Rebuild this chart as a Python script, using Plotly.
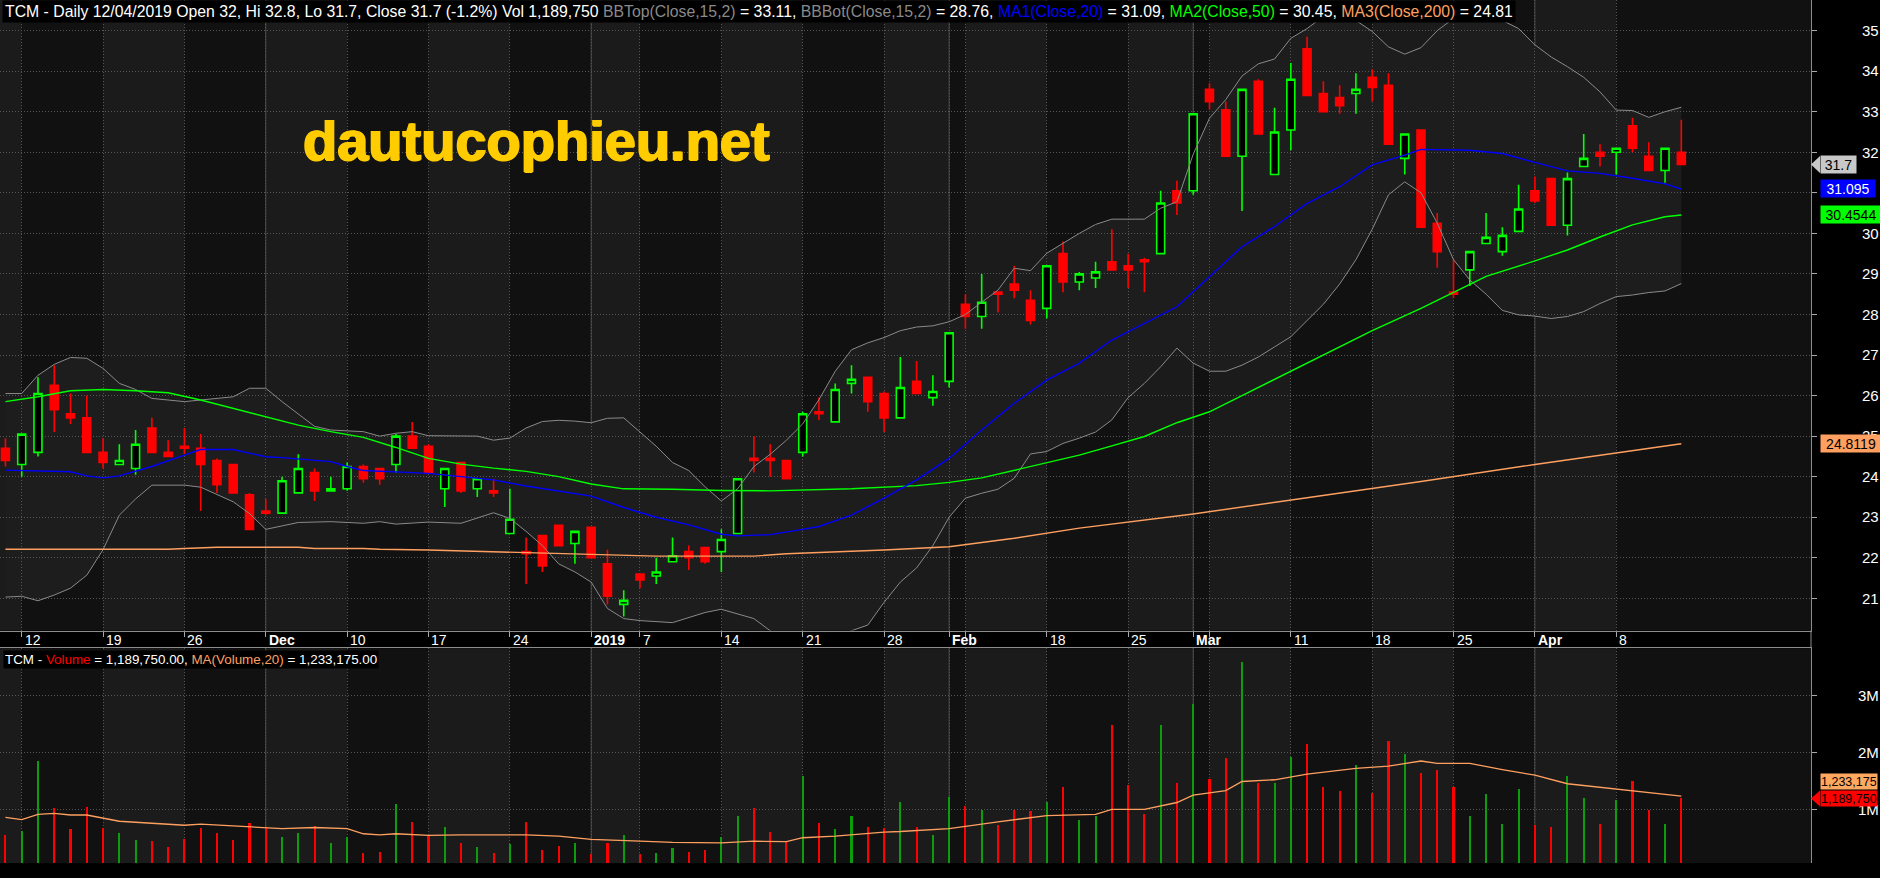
import plotly.graph_objects as go

W, H = 1880, 878

# ---------------- data ----------------
bar_index = list(range(104))

open_ = [24.70, 24.30, 24.60, 26.25, 25.55, 25.45, 24.60, 24.30, 24.20, 25.20,
         24.60, 24.75, 24.70, 24.40, 24.30, 23.55, 23.15, 23.10, 23.60, 24.10,
         23.65, 23.70, 24.25, 24.20, 24.30, 25.00, 24.75, 23.70, 24.35, 23.70,
         23.65, 22.60, 22.15, 22.55, 22.80, 22.35, 22.75, 21.85, 20.85, 21.60,
         21.55, 21.90, 22.15, 22.25, 22.15, 22.60, 24.45, 24.45, 24.40, 24.60,
         25.60, 25.35, 26.30, 26.45, 26.05, 25.45, 26.35, 25.95, 26.35, 28.25,
         27.95, 28.55, 28.75, 28.35, 28.15, 29.50, 28.80, 28.90, 29.30, 29.20,
         29.35, 29.50, 31.05, 31.05, 33.55, 33.05, 31.90, 33.75, 31.45, 32.55,
         34.55, 33.45, 33.35, 33.45, 33.85, 33.65, 31.85, 32.55, 30.25, 28.55,
         29.10, 29.75, 29.55, 30.05, 31.05, 31.35, 30.20, 31.65, 32.00, 32.00,
         32.65, 31.90, 31.55, 32.00]
high_ = [24.95, 25.05, 26.45, 26.75, 26.05, 26.00, 24.95, 24.80, 25.15, 25.45,
         24.90, 25.20, 25.05, 24.45, 24.30, 23.60, 23.45, 24.00, 24.55, 24.20,
         24.00, 24.35, 24.30, 24.20, 25.05, 25.35, 24.80, 24.20, 24.35, 23.95,
         23.95, 23.70, 22.50, 22.55, 22.80, 22.65, 22.75, 22.20, 21.20, 21.60,
         22.00, 22.50, 22.30, 22.25, 22.70, 23.95, 25.00, 24.80, 24.40, 25.60,
         25.95, 26.30, 26.75, 26.45, 26.10, 26.95, 26.85, 26.50, 27.55, 28.50,
         29.00, 28.55, 29.20, 28.60, 29.20, 29.80, 29.05, 29.30, 30.10, 29.50,
         29.40, 31.05, 31.30, 32.95, 33.70, 33.25, 33.55, 33.80, 33.10, 34.20,
         34.85, 33.75, 33.65, 33.95, 34.05, 33.95, 32.45, 32.55, 30.50, 29.35,
         29.55, 30.50, 30.15, 31.20, 31.40, 31.35, 31.50, 32.45, 32.20, 32.10,
         32.85, 32.25, 32.10, 32.80]
low_ = [24.25, 24.00, 24.50, 25.10, 25.30, 24.60, 24.20, 24.30, 24.05, 24.60,
        24.50, 24.55, 23.15, 23.60, 23.60, 22.70, 23.05, 23.10, 23.60, 23.40,
        23.65, 23.65, 23.85, 23.80, 24.10, 24.70, 24.10, 23.25, 23.60, 23.50,
        23.50, 22.60, 21.35, 21.65, 22.30, 21.85, 22.00, 20.85, 20.55, 21.25,
        21.35, 21.90, 21.70, 21.85, 21.65, 22.60, 24.10, 24.00, 23.95, 24.50,
        25.40, 25.35, 26.05, 25.60, 25.10, 25.45, 26.05, 25.75, 26.20, 27.65,
        27.65, 28.05, 28.40, 27.75, 27.90, 28.55, 28.60, 28.65, 29.10, 28.65,
        28.55, 29.50, 30.45, 30.95, 33.05, 31.90, 30.55, 32.45, 31.45, 32.05,
        33.40, 33.00, 32.95, 32.95, 33.25, 32.20, 31.45, 30.15, 29.15, 28.40,
        28.70, 29.75, 29.45, 30.05, 30.75, 30.20, 29.95, 31.65, 31.65, 31.45,
        32.00, 31.55, 31.25, 31.70]
close_ = [24.40, 25.05, 26.05, 25.65, 25.45, 24.60, 24.35, 24.40, 24.80, 24.60,
          24.50, 24.70, 24.30, 23.80, 23.60, 22.70, 23.10, 23.90, 24.20, 23.65,
          23.70, 24.25, 23.95, 23.95, 25.00, 24.70, 24.10, 24.20, 23.65, 23.95,
          23.60, 22.95, 22.10, 21.80, 22.30, 22.65, 22.00, 21.05, 20.95, 21.45,
          21.65, 22.05, 22.00, 21.90, 22.45, 23.95, 24.40, 24.40, 23.95, 25.55,
          25.55, 26.15, 26.40, 25.85, 25.45, 26.20, 26.05, 26.10, 27.55, 27.95,
          28.30, 28.50, 28.60, 27.85, 29.20, 28.80, 29.00, 29.05, 29.10, 29.10,
          29.30, 30.75, 30.75, 32.95, 33.25, 31.90, 33.55, 32.45, 32.50, 33.80,
          33.40, 33.00, 33.15, 33.55, 33.60, 32.20, 32.45, 30.15, 29.55, 28.50,
          29.55, 29.90, 29.95, 30.60, 30.80, 30.20, 31.35, 31.85, 31.90, 32.10,
          32.10, 31.55, 32.10, 31.70]
volume = [550000, 620000, 1850000, 1020000, 650000, 1040000, 670000, 570000, 460000, 440000,
          340000, 480000, 670000, 580000, 460000, 760000, 690000, 510000, 580000, 710000,
          410000, 500000, 230000, 250000, 1090000, 780000, 550000, 690000, 410000, 340000,
          230000, 390000, 780000, 280000, 350000, 410000, 200000, 410000, 550000, 200000,
          230000, 320000, 250000, 280000, 510000, 870000, 1010000, 600000, 440000, 1590000,
          760000, 650000, 880000, 690000, 670000, 1130000, 690000, 550000, 1210000, 1060000,
          990000, 720000, 990000, 970000, 1130000, 1380000, 810000, 880000, 2470000, 1430000,
          920000, 2470000, 1460000, 2840000, 1530000, 1900000, 3580000, 1450000, 1460000, 1920000,
          2150000, 1390000, 1310000, 1780000, 1290000, 2200000, 1960000, 1640000, 1680000, 1390000,
          880000, 1270000, 740000, 1360000, 720000, 690000, 1590000, 1200000, 740000, 1160000,
          1500000, 990000, 740000, 1189750]

ma20_x = [0, 4, 5, 6, 7, 9, 11, 12, 14, 16, 17, 20, 21, 22, 25, 26, 28, 30, 32, 36, 38, 40, 42,
          44, 45, 47, 49, 50, 52, 54, 56, 58, 60, 62, 64, 66, 68, 70, 72, 74, 76, 78, 80, 82,
          84, 86, 87, 90, 92, 94, 96, 98, 100, 102, 103]
ma20_y = [24.16, 24.12, 24.02, 23.97, 24.02, 24.25, 24.53, 24.67, 24.67, 24.49, 24.47, 24.37,
          24.25, 24.15, 24.10, 24.08, 24.00, 23.92, 23.77, 23.52, 23.24, 23.00, 22.81, 22.58,
          22.54, 22.57, 22.70, 22.77, 23.05, 23.47, 23.92, 24.45, 25.15, 25.81, 26.38, 26.80,
          27.37, 27.78, 28.19, 28.93, 29.67, 30.17, 30.74, 31.15, 31.69, 31.93, 32.07, 32.05,
          31.97, 31.75, 31.54, 31.48, 31.36, 31.22, 31.095]

ma50_x = [0, 2, 4, 6, 8, 10, 12, 14, 16, 18, 20, 22, 24, 26, 28, 30, 32, 34, 36, 38, 41, 44,
          47, 50, 52, 56, 58, 60, 62, 64, 66, 68, 70, 72, 74, 76, 78, 80, 82, 84, 87, 89, 91,
          94, 96, 98, 100, 102, 103]
ma50_y = [25.85, 25.97, 26.12, 26.15, 26.12, 26.07, 25.89, 25.68, 25.48, 25.27, 25.11, 24.97,
          24.72, 24.45, 24.31, 24.21, 24.13, 24.00, 23.82, 23.70, 23.69, 23.66, 23.65, 23.67,
          23.70, 23.78, 23.86, 23.97, 24.16, 24.35, 24.53, 24.76, 24.99, 25.33, 25.60, 26.00,
          26.40, 26.80, 27.20, 27.60, 28.15, 28.54, 28.94, 29.32, 29.59, 29.91, 30.21, 30.41,
          30.4544]

ma200_x = [0, 10, 11, 13, 18, 19, 22, 23, 26, 28, 31, 33, 37, 40, 46, 48, 50, 54, 58, 62, 66,
           70, 73, 80, 87, 94, 99, 103]
ma200_y = [22.21, 22.21, 22.23, 22.26, 22.26, 22.23, 22.23, 22.21, 22.19, 22.17, 22.13, 22.11,
           22.07, 22.04, 22.04, 22.10, 22.13, 22.19, 22.27, 22.48, 22.73, 22.93, 23.08, 23.48,
           23.88, 24.30, 24.58, 24.8119]

bbu_x = [0, 1, 2, 3, 4, 5, 6, 7, 8, 9, 11, 13, 14, 15, 16, 17, 19, 20, 22, 23, 24, 25, 26,
         29, 30, 31, 32, 33, 34, 35, 36, 37, 38, 39, 40, 41, 42, 43, 44, 45, 46, 47, 48, 49,
         50, 51, 52, 53, 54, 55, 56, 57, 58, 59, 60, 61, 62, 63, 64, 65, 66, 67, 68, 70, 71,
         72, 73, 74, 75, 76, 77, 78, 79, 80, 81, 82, 83, 84, 85, 86, 87, 88, 89, 90, 91, 92,
         93, 94, 95, 96, 97, 98, 99, 100, 101, 102, 103]
bbu_y = [26.05, 26.05, 26.50, 26.77, 26.94, 26.92, 26.67, 26.30, 26.15, 25.93, 25.85, 25.93,
         25.97, 26.18, 26.18, 25.85, 25.24, 25.15, 25.11, 25.00, 25.07, 25.11, 25.01, 25.00,
         24.90, 24.95, 25.20, 25.36, 25.39, 25.37, 25.33, 25.44, 25.45, 25.10, 24.75, 24.35,
         24.15, 23.75, 23.40, 23.70, 24.25, 24.55, 24.90, 25.30, 25.90, 26.60, 27.13, 27.30,
         27.43, 27.60, 27.69, 27.72, 27.82, 28.00, 28.30, 28.60, 29.14, 29.08, 29.51, 29.76,
         30.00, 30.22, 30.35, 30.35, 30.62, 30.78, 31.95, 32.84, 33.30, 33.88, 34.18, 34.30,
         34.81, 35.05, 35.35, 35.40, 35.25, 34.98, 34.60, 34.42, 34.58, 35.00, 35.30, 35.40,
         35.40, 35.25, 35.05, 34.65, 34.35, 34.11, 33.85, 33.49, 33.04, 33.03, 32.86, 33.00,
         33.11]

bbl_x = [0, 1, 2, 3, 4, 5, 6, 7, 8, 9, 11, 12, 14, 15, 16, 17, 18, 20, 22, 23, 24, 26, 28,
         30, 31, 32, 33, 34, 35, 36, 37, 38, 39, 41, 43, 44, 46, 47, 48, 50, 51, 52, 53, 54,
         55, 56, 57, 58, 59, 60, 61, 62, 63, 64, 65, 66, 67, 68, 69, 70, 71, 72, 73, 74, 75,
         76, 77, 78, 79, 80, 81, 82, 83, 84, 85, 86, 87, 88, 89, 90, 91, 92, 93, 94, 95, 96,
         97, 98, 99, 100, 101, 102, 103]
bbl_y = [21.03, 21.05, 20.94, 21.08, 21.25, 21.57, 22.20, 23.05, 23.45, 23.79, 23.79, 23.74,
         23.38, 23.09, 22.70, 22.78, 22.87, 22.89, 22.85, 22.89, 22.83, 22.88, 22.85, 23.11,
         22.97, 22.65, 22.30, 21.85, 21.65, 21.40, 20.75, 20.50, 20.45, 20.40, 20.65, 20.73,
         20.50, 20.20, 20.00, 19.90, 20.00, 20.20, 20.34, 20.90, 21.40, 21.75, 22.30, 23.00,
         23.47, 23.59, 23.69, 23.96, 24.56, 24.62, 24.82, 24.95, 25.10, 25.40, 25.95, 26.30,
         26.71, 27.17, 26.80, 26.60, 26.60, 26.75, 26.95, 27.20, 27.45, 27.85, 28.25, 28.75,
         29.35, 30.10, 30.95, 31.27, 31.00, 30.25, 29.35, 28.85, 28.50, 28.10, 27.99, 27.96,
         27.90, 27.95, 28.07, 28.27, 28.44, 28.48, 28.54, 28.58, 28.76]

volma_x = [0, 1, 2, 3, 4, 5, 7, 9, 11, 12, 14, 16, 17, 19, 21, 22, 23, 24, 26, 28, 32, 34, 36,
           39, 41, 44, 46, 48, 49, 51, 54, 55, 58, 61, 64, 67, 68, 70, 72, 73, 75, 76, 78, 80,
           83, 85, 87, 88, 90, 92, 94, 96, 98, 100, 103]
volma_y = [860000, 820000, 910000, 930000, 900000, 900000, 790000, 760000, 720000, 740000,
           710000, 680000, 660000, 680000, 660000, 570000, 550000, 570000, 540000, 550000,
           550000, 530000, 470000, 440000, 420000, 410000, 440000, 430000, 500000, 530000,
           600000, 610000, 660000, 780000, 890000, 910000, 1000000, 1000000, 1120000, 1250000,
           1330000, 1490000, 1520000, 1620000, 1720000, 1760000, 1850000, 1810000, 1810000,
           1700000, 1600000, 1450000, 1390000, 1320000, 1233175]

# x-axis labels (bar index -> text); months / year are bold
label_idx = [1, 6, 11, 16, 21, 26, 31, 36, 39, 44, 49, 54, 58, 64, 69, 73, 79, 84, 89, 94, 99]
label_txt = ["12", "19", "26", "Dec", "10", "17", "24", "2019", "7", "14", "21", "28", "Feb",
             "18", "25", "Mar", "11", "18", "25", "Apr", "8"]
month_idx = [16, 36, 58, 73, 94]
extra_grid_idx = [59, 74]
price_ticks = list(range(21, 36))
price_ticktext = ["" if v == 31 else str(v) for v in price_ticks]   # 31 sits under the MA1 flag
vol_ticks = [1000000, 2000000, 3000000]
vol_ticktext = ["1M", "2M", "3M"]

# ---------------- geometry / style ----------------
X_LEFT, X_RIGHT = -0.334, 110.97
P_LO, P_HI = 20.206, 35.755
V_LO, V_HI = 55500, 3833500
X_DOM = [0, 1811 / W]
PRICE_DOM = [1 - 630.5 / H, 1.0]
VOL_DOM = [1 - 863 / H, 1 - 648.3 / H]

BG_DARK = "#111111"
BG_LIGHT = "#1b1b1b"
CLOUD = "#1d1d1d"
GRID = "#555555"
MONTH_LINE = "#4c4c4c"
AXIS_LINE = "#8c8c8c"
SANS = "Liberation Sans, Arial, sans-serif"


def py(px):
    return 1 - px / H


def pxx(px):
    return px / W


grid_idx = sorted(set(label_idx + extra_grid_idx))

fig = go.Figure()

# alternating column shading between vertical grid lines
bounds = [X_LEFT] + grid_idx + [X_RIGHT]
for k in range(len(bounds) - 1):
    if k % 2 == 0:
        for xr, dom in (("x", PRICE_DOM), ("x2", VOL_DOM)):
            fig.add_shape(type="rect", xref=xr, yref="paper", x0=bounds[k], x1=bounds[k + 1],
                          y0=dom[0], y1=dom[1], fillcolor=BG_LIGHT, line_width=0, layer="below")

# Bollinger cloud
pts = [f"{x},{y}" for x, y in zip(bbu_x, bbu_y)] + \
      [f"{x},{y}" for x, y in zip(reversed(bbl_x), reversed(bbl_y))]
fig.add_shape(type="path", path="M " + " L ".join(pts) + " Z", xref="x", yref="y",
              fillcolor=CLOUD, line_width=0, layer="below")

# month separators (solid)
for m in month_idx:
    for xr, dom in (("x", PRICE_DOM), ("x2", VOL_DOM)):
        fig.add_shape(type="line", xref=xr, yref="paper", x0=m, x1=m, y0=dom[0], y1=dom[1],
                      line=dict(color=MONTH_LINE, width=1), layer="between")

# right border between the two panels
fig.add_shape(type="line", xref="paper", yref="paper", x0=X_DOM[1], x1=X_DOM[1],
              y0=VOL_DOM[1], y1=PRICE_DOM[0], line=dict(color=AXIS_LINE, width=1))

# candles
fig.add_trace(go.Candlestick(
    x=bar_index, open=open_, high=high_, low=low_, close=close_,
    increasing=dict(line=dict(color="#00ff00", width=1.6), fillcolor="#000000"),
    decreasing=dict(line=dict(color="#ff0000", width=1.6), fillcolor="#ff0000"),
    whiskerwidth=0, hoverinfo="skip", showlegend=False, xaxis="x", yaxis="y"))

# indicator lines
for xs, ys, col, wd in ((bbu_x, bbu_y, "#8a8a8a", 1.0), (bbl_x, bbl_y, "#8a8a8a", 1.0),
                        (ma200_x, ma200_y, "#ffa060", 1.4), (ma50_x, ma50_y, "#00ff00", 1.4),
                        (ma20_x, ma20_y, "#0000ff", 1.4)):
    fig.add_trace(go.Scatter(x=xs, y=ys, mode="lines", line=dict(color=col, width=wd),
                             hoverinfo="skip", showlegend=False, xaxis="x", yaxis="y"))

# volume
vol_colors = ["#0c9c0c" if c > o else "#ff0000" for o, c in zip(open_, close_)]
fig.add_trace(go.Bar(x=bar_index, y=volume, width=0.13, marker=dict(color=vol_colors, line_width=0),
                     hoverinfo="skip", showlegend=False, xaxis="x2", yaxis="y2"))
fig.add_trace(go.Scatter(x=volma_x, y=volma_y, mode="lines", line=dict(color="#ffa060", width=1.3),
                         hoverinfo="skip", showlegend=False, xaxis="x2", yaxis="y2"))

common_x = dict(domain=X_DOM, range=[X_LEFT, X_RIGHT], tickmode="array", tickvals=grid_idx,
                showticklabels=False, showgrid=True, gridcolor=GRID, griddash="1px,2px",
                gridwidth=1, zeroline=False, fixedrange=True)
fig.update_layout(
    width=W, height=H, margin=dict(l=0, r=0, t=0, b=0),
    paper_bgcolor="#000000", plot_bgcolor=BG_DARK, showlegend=False, bargap=0,
    xaxis=dict(**common_x, anchor="y", ticks="outside", ticklen=5, tickcolor="#a8a8a8",
               showline=True, linecolor=AXIS_LINE, linewidth=1, rangeslider=dict(visible=False)),
    xaxis2=dict(**common_x, anchor="y2", side="top", ticks="", showline=True,
                linecolor=AXIS_LINE, linewidth=1),
    yaxis=dict(domain=PRICE_DOM, range=[P_LO, P_HI], anchor="x", side="right",
               tickmode="array", tickvals=price_ticks, ticktext=price_ticktext, ticks="outside",
               ticklen=5, tickcolor="#a8a8a8", tickfont=dict(family=SANS, size=15, color="#ffffff"),
               ticklabelstandoff=42, showgrid=True, gridcolor=GRID, griddash="1px,2px",
               zeroline=False, showline=True, linecolor=AXIS_LINE, fixedrange=True),
    yaxis2=dict(domain=VOL_DOM, range=[V_LO, V_HI], anchor="x2", side="right",
                tickmode="array", tickvals=vol_ticks, ticktext=vol_ticktext, ticks="outside",
                ticklen=5, tickcolor="#a8a8a8", tickfont=dict(family=SANS, size=15, color="#ffffff"),
                ticklabelstandoff=38, showgrid=True, gridcolor=GRID, griddash="1px,2px",
                zeroline=False, showline=True, linecolor=AXIS_LINE, fixedrange=True),
)

ann = []
# date labels
for i, t in zip(label_idx, label_txt):
    bold = not t.isdigit() or len(t) == 4
    ann.append(dict(xref="x", yref="paper", x=i, y=py(631), xanchor="left", yanchor="top",
                    xshift=2, showarrow=False, text=f"<b>{t}</b>" if bold else t,
                    font=dict(family=SANS, size=14, color="#ffffff"), borderpad=0))

# header
prev_c = close_[-2]
chg = (close_[-1] / prev_c - 1) * 100
hdr = (f"TCM - Daily 12/04/2019 Open {open_[-1]:g}, Hi {high_[-1]:g}, Lo {low_[-1]:g}, "
       f"Close {close_[-1]:g} ({chg:.1f}%) Vol {volume[-1]:,} "
       f"<span style='color:#8a8a8a'>BBTop(Close,15,2)</span> = {bbu_y[-1]:.2f}, "
       f"<span style='color:#8a8a8a'>BBBot(Close,15,2)</span> = {bbl_y[-1]:.2f}, "
       f"<span style='color:#0000ff'>MA1(Close,20)</span> = {int(ma20_y[-1] * 100) / 100:.2f}, "
       f"<span style='color:#00ff00'>MA2(Close,50)</span> = {ma50_y[-1]:.2f}, "
       f"<span style='color:#ffa060'>MA3(Close,200)</span> = {ma200_y[-1]:.2f}")
ann.append(dict(xref="paper", yref="paper", x=0, y=1, xanchor="left", yanchor="top",
                showarrow=False, text=hdr, bgcolor="#000000", borderpad=2, xshift=2,
                font=dict(family=SANS, size=15.8, color="#ffffff")))
vhdr = (f"TCM - <span style='color:#ff0000'>Volume</span> = {volume[-1]:,.2f}, "
        f"<span style='color:#ffa060'>MA(Volume,20)</span> = {volma_y[-1]:,.2f}")
ann.append(dict(xref="paper", yref="paper", x=0, y=py(650), xanchor="left", yanchor="top",
                showarrow=False, text=vhdr, bgcolor="#000000", borderpad=1, xshift=3,
                font=dict(family=SANS, size=13.4, color="#ffffff")))

# watermark
ann.append(dict(xref="paper", yref="paper", x=pxx(301), y=py(140.5), xanchor="left",
                yanchor="middle", showarrow=False, text="<b>dautucophieu.net</b>",
                font=dict(family=SANS, size=56, color="#ffcc00",
                          shadow="1px 0 0 #ffcc00, -1px 0 0 #ffcc00, 0 1px 0 #ffcc00")))

# price flags
FLAG_X = pxx(1820)
flags = [(close_[-1], f"{close_[-1]:g}", "#c8c8c8", "#000000", 33),
         (ma20_y[-1], f"{ma20_y[-1]:g}", "#0000ff", "#ffffff", 52),
         (ma50_y[-1], f"{ma50_y[-1]:g}", "#00ff00", "#000000", 58),
         (ma200_y[-1], f"{ma200_y[-1]:g}", "#ffa060", "#000000", 58)]
for val, txt, bg, fg, wd in flags:
    ann.append(dict(xref="paper", yref="y", x=FLAG_X, y=val, xanchor="left", yanchor="middle",
                    showarrow=False, text=txt, bgcolor=bg, width=wd, height=15, borderpad=1,
                    align="center", font=dict(family=SANS, size=14, color=fg)))
# arrow tip for the close flag
hh = 8.5 / 40.55
fig.add_shape(type="path", xref="paper", yref="y",
              path=f"M {X_DOM[1]},{close_[-1]} L {FLAG_X},{close_[-1] + hh} "
                   f"L {FLAG_X},{close_[-1] - hh} Z",
              fillcolor="#c8c8c8", line_width=0, layer="above")

# volume flags
ann.append(dict(xref="paper", yref="y2", x=FLAG_X, y=volma_y[-1], yshift=15, xanchor="left",
                yanchor="middle", showarrow=False, text=f"{volma_y[-1]:,}", bgcolor="#ffa860",
                height=15, borderpad=0, font=dict(family=SANS, size=12.5, color="#000000")))
ann.append(dict(xref="paper", yref="y2", x=FLAG_X, y=volume[-1], xanchor="left",
                yanchor="middle", showarrow=False, text=f"{volume[-1]:,}", bgcolor="#ff0000",
                height=15, borderpad=0, font=dict(family=SANS, size=12.5, color="#000000")))
vh = 8.0 / 56.83 * 1e6
fig.add_shape(type="path", xref="paper", yref="y2",
              path=f"M {X_DOM[1]},{volume[-1]} L {FLAG_X},{volume[-1] + vh} "
                   f"L {FLAG_X},{volume[-1] - vh} Z",
              fillcolor="#ff0000", line_width=0, layer="above")

fig.update_layout(annotations=ann)
fig.write_html("out.html")
